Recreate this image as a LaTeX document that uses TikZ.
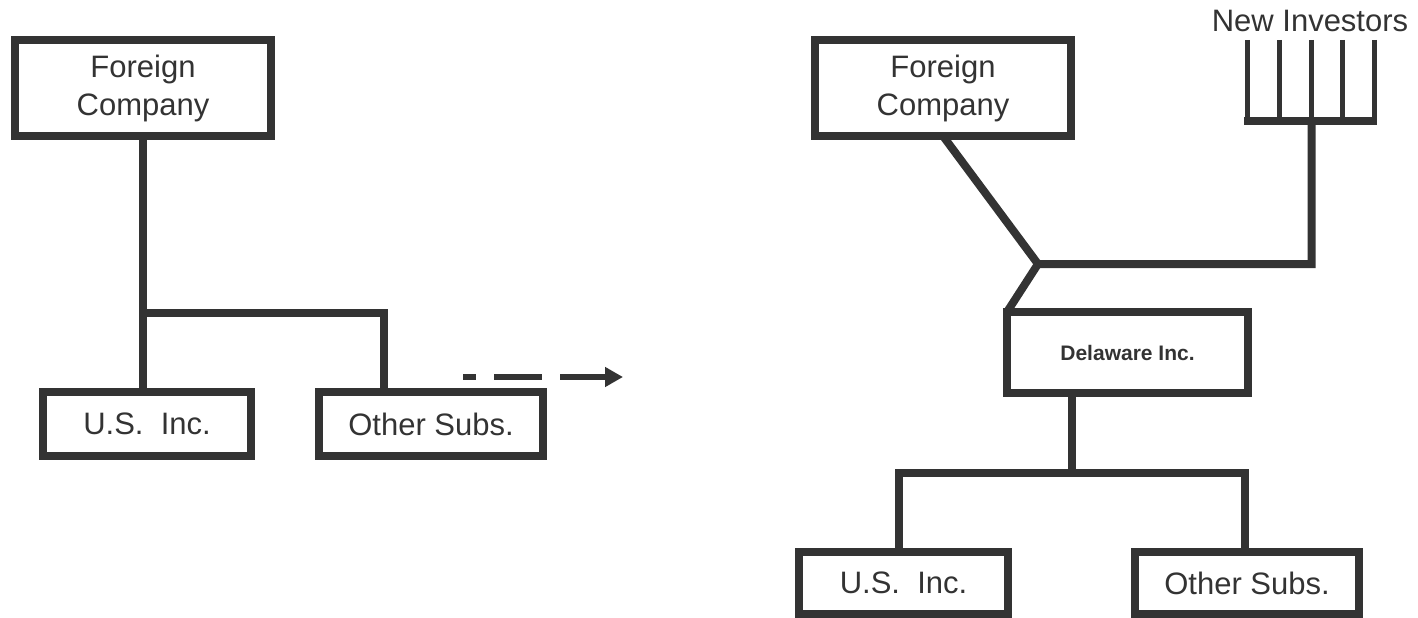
\documentclass[tikz,border=0pt]{standalone}
\usepackage{fontspec}
\setmainfont{Liberation Sans}
\usetikzlibrary{arrows.meta}
\definecolor{ink}{HTML}{333333}

\begin{document}
\begin{tikzpicture}[x=1pt,y=-1pt,
  box/.style={draw=ink, line width=8pt, inner sep=0pt, outer sep=0pt,
    text=ink, font=\fontsize{31}{38}\selectfont, align=center},
  link/.style={draw=ink, line width=8pt, line join=miter},
  tooth/.style={draw=ink, line width=5pt},
  label/.style={text=ink, font=\fontsize{31}{38}\selectfont, inner sep=0pt},
]
\useasboundingbox (0,0) rectangle (1418,618);

% ---- before: the foreign parent owns its subsidiaries directly
\node[box, minimum width=256pt, minimum height=96pt] (lfc) at (143,88) {Foreign\\Company};
\node[box, minimum width=208pt, minimum height=64pt] (lus) at (147,424) {U.S.\ \ Inc.};
\node[box, minimum width=224pt, minimum height=64pt] (los) at (431,424) {Other Subs.};
\coordinate (lsplit) at (143,312.5);
\coordinate (lturn) at (383.5,312.5);
\draw[link] (lfc.south) -- (lfc.south |- lus.north);
\draw[link] (lsplit) -- (lturn) -- (lturn |- los.north);

% ---- transition arrow
\coordinate (dfrom) at (463,377);
\coordinate (dto) at (623,377);
\draw[draw=ink, line width=6pt, dash pattern=on 48pt off 18pt, dash phase=35pt,
  -{Triangle[length=18pt,width=19pt,fill=ink]}] (dfrom) -- (dto);

% ---- after: a Delaware holding company with new investors
\node[box, minimum width=256pt, minimum height=96pt] (rfc) at (943,88) {Foreign\\Company};
\node[label, anchor=base] (newinv) at (1310,32) {New Investors};
\node[box, minimum width=241pt, minimum height=81pt,
  font=\bfseries\fontsize{21}{25}\selectfont] (del) at (1127.5,352.5) {Delaware Inc.};
\node[box, minimum width=209pt, minimum height=62pt] (rus) at (903.5,583) {U.S.\ \ Inc.};
\node[box, minimum width=224pt, minimum height=62pt] (ros) at (1247,583) {Other Subs.};

\coordinate (rjoin) at (1038,264);
\coordinate (rrise) at (1311.5,264);
\coordinate (fork) at (1311.5,121);
\coordinate (forkL) at (1244,121);
\coordinate (forkR) at (1377,121);
\draw[link] (rfc.south) -- (rjoin) -- (rrise) -- (fork);
\draw[link] (rjoin) -- (del.north west);
\draw[link] (forkL) -- (forkR);
\foreach \x [count=\i] in {1247.7,1279.3,1311,1342.7,1374.3} {
  \coordinate (t\i) at (\x,40);
  \draw[tooth] (t\i) -- (t\i |- fork);
}

\coordinate (rsplit) at (1072,472.5);
\coordinate (rleft) at (898.5,472.5);
\coordinate (rright) at (1245,472.5);
\draw[link] (rsplit |- del.south) -- (rsplit);
\draw[link] (rleft |- rus.north) -- (rleft) -- (rright) -- (rright |- ros.north);
\end{tikzpicture}
\end{document}
